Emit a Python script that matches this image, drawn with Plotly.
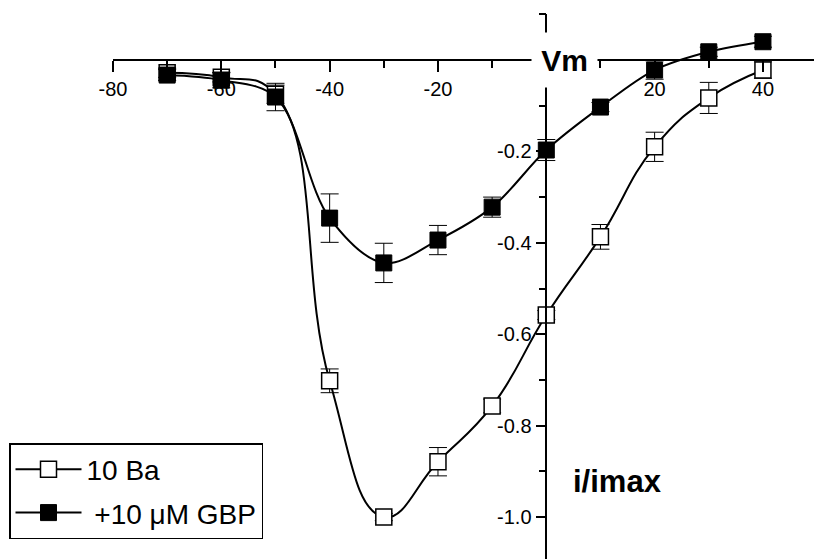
import plotly.graph_objects as go

vm = [-70, -60, -50, -40, -30, -20, -10, 0, 10, 20, 30, 40]

ba_y = [-0.028, -0.038, -0.075, -0.702, -1.0, -0.879, -0.757, -0.558, -0.387, -0.19, -0.083, -0.022]
ba_err = [0.01, 0.01, 0.02, 0.026, 0.008, 0.031, 0.015, 0.01, 0.027, 0.032, 0.034, 0.018]

gbp_y = [-0.033, -0.044, -0.081, -0.346, -0.444, -0.394, -0.322, -0.197, -0.103, -0.022, 0.018, 0.04]
gbp_err = [0.012, 0.017, 0.03, 0.053, 0.043, 0.032, 0.022, 0.023, 0.01, 0.02, 0.01, 0.012]

x_ticks = [-80, -60, -40, -20, 20, 40]
x_minor = [-70, -50, -30, -10, 10, 30]
y_ticks = [-1.0, -0.8, -0.6, -0.4, -0.2]
y_minor = [-0.9, -0.7, -0.5, -0.3, -0.1, 0.1]

FONT = "Liberation Sans, Arial, sans-serif"
W, H = 814, 559

fig = go.Figure()
fig.add_trace(go.Scatter(
    x=vm, y=ba_y, name="10 Ba", mode="lines+markers",
    line=dict(color="black", width=2, shape="spline", smoothing=1.3),
    marker=dict(symbol="square", size=16, color="white", line=dict(color="black", width=1.5)),
    error_y=dict(type="data", array=ba_err, color="black", thickness=1, width=9),
    legendgroup="a",
))
fig.add_trace(go.Scatter(
    x=vm, y=gbp_y, name="\u00a0+10 μM GBP", mode="lines+markers",
    line=dict(color="black", width=2, shape="spline", smoothing=1.0),
    marker=dict(symbol="square", size=16, color="black", line=dict(color="black", width=1)),
    error_y=dict(type="data", array=gbp_err, color="black", thickness=1, width=9),
    legendgroup="b",
))

x0_px, x80_px = 546.3, 113.0
ppu_x = (x0_px - x80_px) / 80
y0_px = 60.0
ppu_y = 457.0
x_right = (W - x0_px) / ppu_x
y_bottom = -(H - y0_px) / ppu_y
y_top = 0.1

fig.update_layout(
    width=W, height=H,
    margin=dict(l=0, r=0, t=0, b=0, autoexpand=False),
    paper_bgcolor="white", plot_bgcolor="white",
    font=dict(family=FONT, color="black", size=20),
    showlegend=True,
    legend=dict(
        x=9 / W, y=1 - 443 / H, xanchor="left", yanchor="top",
        bordercolor="black", borderwidth=1.5, bgcolor="white",
        font=dict(size=28, family=FONT), tracegroupgap=4,
        traceorder="grouped", itemwidth=66,
    ),
    xaxis=dict(
        domain=[x80_px / W, 1], range=[-80, x_right],
        anchor="free", position=(H - y0_px) / H, automargin=False,
        showgrid=False, zeroline=False,
        showline=True, linecolor="black", linewidth=1.5,
        ticks="outside", ticklen=11, tickwidth=1.5, tickcolor="black",
        tickvals=x_ticks, ticktext=[str(v) for v in x_ticks],
        tickfont=dict(size=20, family=FONT),
        minor=dict(tickvals=x_minor, ticks="outside", ticklen=7, tickwidth=1.5, tickcolor="black"),
    ),
    yaxis=dict(
        domain=[0, 1 - (y0_px - y_top * ppu_y) / H], range=[y_bottom, y_top],
        anchor="free", position=x0_px / W, automargin=False,
        showgrid=False, zeroline=False,
        showline=True, linecolor="black", linewidth=1.5,
        ticks="outside", ticklen=10, tickwidth=1.5, tickcolor="black",
        tickvals=y_ticks, ticktext=["%.1f" % v for v in y_ticks],
        tickfont=dict(size=20, family=FONT),
        minor=dict(tickvals=y_minor, ticks="outside", ticklen=7, tickwidth=1.5, tickcolor="black"),
    ),
    annotations=[
        dict(x=(564.5 - x0_px) / ppu_x, y=0, xref="x", yref="y", text="<b>Vm</b>",
             showarrow=False, bgcolor="white", width=61, height=50, borderpad=2,
             font=dict(size=30, family=FONT, color="black")),
        dict(x=(617 - x0_px) / ppu_x, y=-(481 - y0_px) / ppu_y, xref="x", yref="y",
             text="<b>i/imax</b>", showarrow=False,
             font=dict(size=31, family=FONT, color="black")),
    ],
)

fig.write_html(
    "out.html",
    config={"displayModeBar": False},
    post_script="document.body.style.margin='0';document.body.style.overflow='hidden';",
)
